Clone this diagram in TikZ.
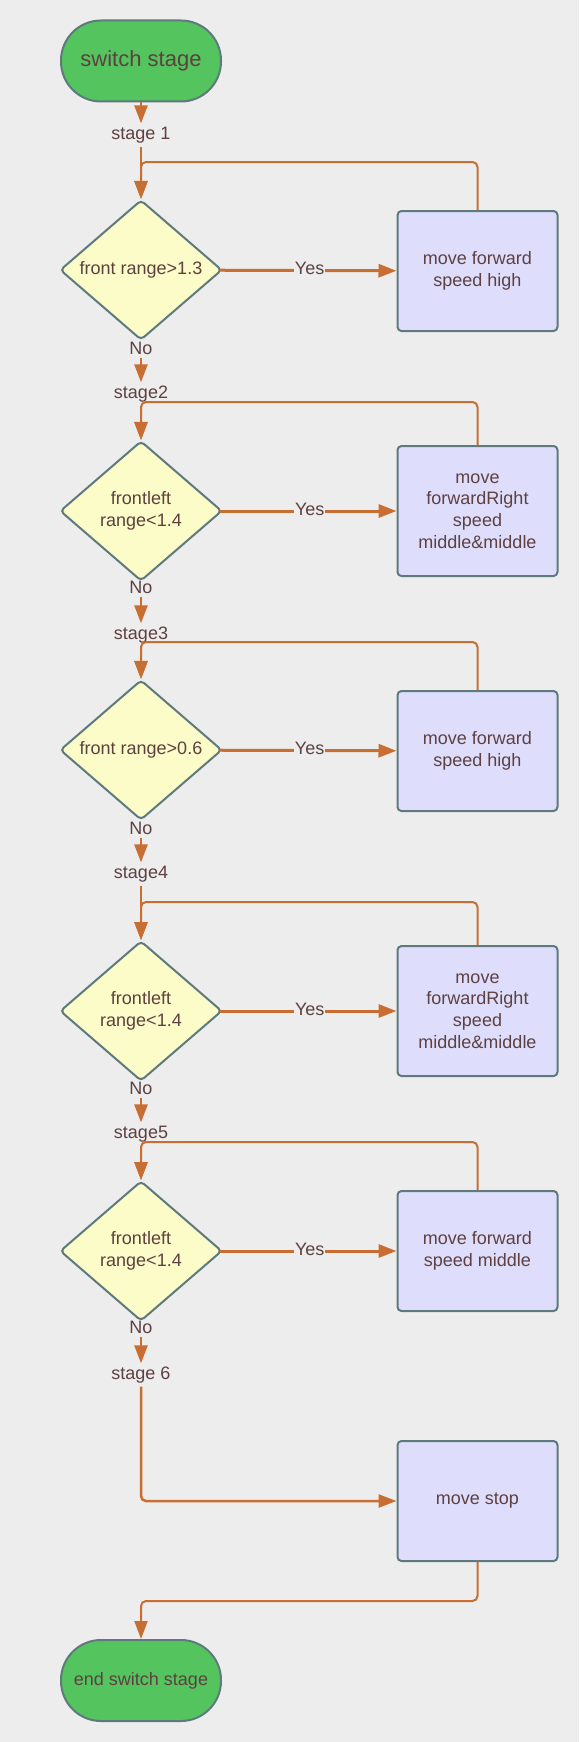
\documentclass[tikz,border=0pt]{standalone}
\usepackage{fontspec}
\setmainfont{Liberation Sans}
\usetikzlibrary{shapes.geometric,arrows.meta}

\definecolor{bgcol}{RGB}{237,237,237}
\definecolor{txtcol}{RGB}{94,64,64}
\definecolor{edgecol}{RGB}{94,122,125}
\definecolor{arrcol}{RGB}{200,110,50}
\definecolor{termcol}{RGB}{84,196,94}
\definecolor{condcol}{RGB}{252,252,200}
\definecolor{actcol}{RGB}{222,222,252}

\tikzset{
	every node/.style={text=txtcol, font=\fontsize{18pt}{21.7pt}\selectfont},
	terminal/.style={draw=edgecol, fill=termcol, line width=2pt, rounded corners=40pt,
		minimum width=160pt, minimum height=81pt, inner sep=0pt},
	cond/.style={diamond, aspect=1.16, draw=edgecol, fill=condcol, line width=2pt, rounded corners=4pt,
		minimum width=162pt, minimum height=140pt, inner sep=0pt, align=center},
	action/.style={draw=edgecol, fill=actcol, line width=2pt, rounded corners=4pt,
		minimum width=160pt, minimum height=#1, inner sep=0pt, align=center},
	action/.default=120pt,
	flow/.style={arrcol, line width=2.5pt, -{Triangle[length=18pt,width=13pt]}},
	yes/.style={flow, line width=3pt, shorten <=-3pt},
	back/.style={arrcol, line width=2pt, rounded corners=5pt, -{Triangle[length=18pt,width=13pt]}}
}

\begin{document}
\begin{tikzpicture}[x=1pt, y=-1pt]
		\fill [bgcol] (0,0) rectangle (579,1742);
		% start and stage 1
		\node [terminal, font=\fontsize{22pt}{26pt}\selectfont] (start) at (141,61) {switch stage};
		\node (s1) at (141,135) {stage 1};
		\node [cond] (d1) at (141,270) {front range>1.3};
		\node [action] (b1) at (477.5,271) {move forward\\speed high};
		\node (n1) at (141,348) {No};
		% stage 2
		\node (s2) at (141,394) {stage2};
		\node [cond] (d2) at (141,511) {frontleft\\range<1.4};
		\node [action=130pt] (b2) at (477.5,511) {move\\forwardRight\\speed\\middle\&middle};
		\node (n2) at (141,587) {No};
		% stage 3
		\node (s3) at (141,635) {stage3};
		\node [cond] (d3) at (141,750) {front range>0.6};
		\node [action] (b3) at (477.5,751) {move forward\\speed high};
		\node (n3) at (141,828) {No};
		% stage 4
		\node (s4) at (141,874) {stage4};
		\node [cond] (d4) at (141,1011) {frontleft\\range<1.4};
		\node [action=130pt] (b4) at (477.5,1011) {move\\forwardRight\\speed\\middle\&middle};
		\node (n4) at (141,1088) {No};
		% stage 5
		\node (s5) at (141,1134) {stage5};
		\node [cond] (d5) at (141,1251) {frontleft\\range<1.4};
		\node [action] (b5) at (477.5,1251) {move forward\\speed middle};
		\node (n5) at (141,1327) {No};
		% stage 6 and end
		\node (s6) at (141,1375) {stage 6};
		\node [action] (b6) at (477.5,1501) {move stop};
		\node [terminal] (stop) at (141,1680.5) {end switch stage};

		\draw [flow] (start) -- (s1);
		\foreach \i/\ly in {1/162, 2/402, 3/642, 4/902, 5/1142} {
			\pgfmathtruncatemacro\nxt{\i+1}
			\coordinate (j\i) at (141,\ly);
			\draw [flow] (s\i) -- (d\i);
			\draw [yes] (d\i) -- node [fill=bgcol, inner sep=1pt, yshift=2pt] {Yes} (b\i);
			\draw [back] (b\i.north) |- (j\i) -- (d\i.north);
			\draw [flow] (n\i) -- (s\nxt);
		}
		\coordinate (j6) at (141,1601);
		\draw [flow, rounded corners=5pt] (s6) |- (b6);
		\draw [back] (b6.south) |- (j6) -- (stop.north);
	\end{tikzpicture}
\end{document}
